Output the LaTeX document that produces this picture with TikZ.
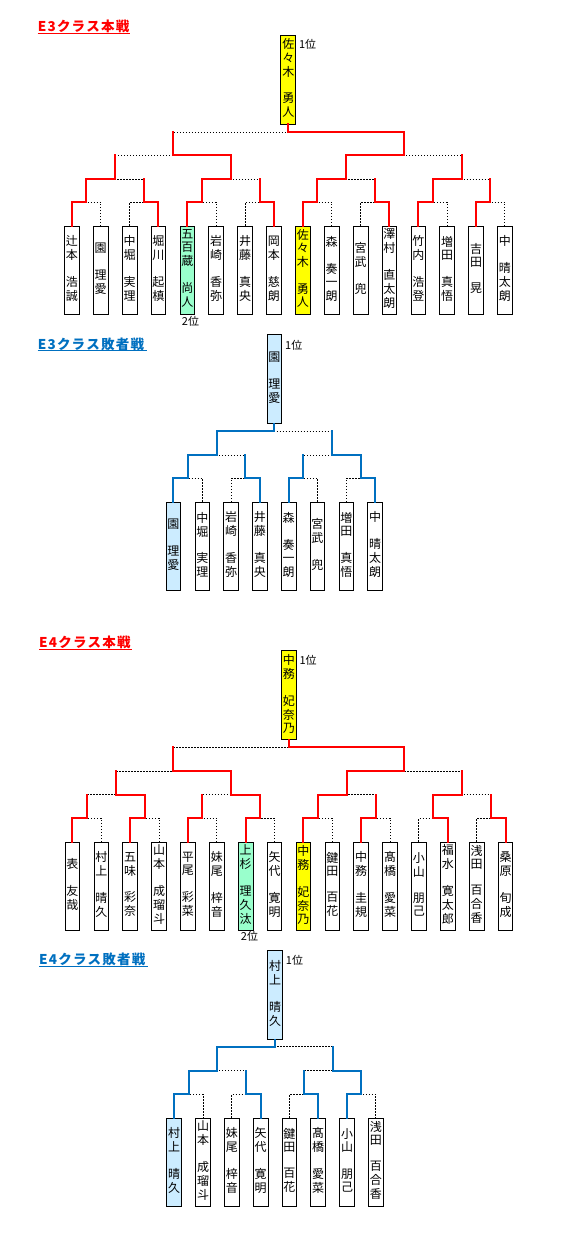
\documentclass[tikz,border=0pt]{standalone}
\usepackage{fontspec}
\newfontfamily\jp{Noto Sans CJK JP}
\usetikzlibrary{calc}
\definecolor{exred}{HTML}{FF0000}
\definecolor{exblue}{HTML}{0070C0}
\definecolor{ltblue}{HTML}{CCECFF}
\definecolor{mint}{HTML}{99FFCC}
\definecolor{yel}{HTML}{FFFF00}
\newcommand\vn[1]{\begin{tabular}{@{}c@{}}#1\end{tabular}}
\newcommand\tk{\kern1.2pt}
\tikzset{
  pbox/.style={draw=black, line width=0.8pt, minimum width=14.7pt, minimum height=88pt,
    inner sep=0pt, font=\fontsize{12}{13}\selectfont\jp},
  cbox/.style={pbox, minimum width=15pt, minimum height=89pt},
  dotl/.style={draw=black, line width=1pt, dash pattern=on 1.3pt off 1.7pt},
  redl/.style={draw=exred, line width=2pt, line cap=rect},
  bluel/.style={draw=exblue, line width=2pt, line cap=rect},
  ttl/.style={font=\fontsize{13.5}{15}\selectfont\jp\bfseries, inner sep=0pt, anchor=base west},
  rank/.style={font=\fontsize{11}{12}\selectfont\jp, inner sep=0pt},
}
% match: name, child1, child2, level y, winner (1/2), colour style
\newcommand\mt[6]{%
  \coordinate (tmp) at ($(#2)!0.5!(#3)$);
  \coordinate (#1) at (tmp |- 0,#4);
  \draw[dotl] (#2) |- (#1) -| (#3);
  \ifnum#5=1\relax \draw[#6] (#2) |- (#1);\else \draw[#6] (#3) |- (#1);\fi
}
\newcommand\mtn[6]{%
  \mt{#1}{#2}{#3}{#4}{#5}{#6}%
  \draw[#6] (#2) -- (#2 |- #1);
  \draw[#6] (#3) -- (#3 |- #1);
}
\begin{document}
\begin{tikzpicture}[x=1pt,y=-1pt]
\fill[white] (0,0) rectangle (570,1245);
\useasboundingbox (0,0) rectangle (570,1245);

%================ E3 main =================
\node[ttl,text=exred] (T1) at (37.7,31.7) {E\tk3\tk ク\tk ラ\tk ス\tk 本\tk 戦};
\draw[exred,line width=1pt] (37.7,33.5) -- (130,33.5);

\node[pbox] (A1) at (71.85,270) {\vn{辻\\本\\ \\浩\\誠}};
\node[pbox] (A2) at (100.72,270) {\vn{園\\ \\理\\愛}};
\node[pbox] (A3) at (129.59,270) {\vn{中\\堀\\ \\実\\理}};
\node[pbox] (A4) at (158.46,270) {\vn{堀\\川\\ \\起\\槙}};
\node[pbox,fill=mint] (A5) at (187.33,270) {\vn{五\\百\\蔵\\ \\尚\\人}};
\node[pbox] (A6) at (216.20,270) {\vn{岩\\崎\\ \\香\\弥}};
\node[pbox] (A7) at (245.07,270) {\vn{井\\藤\\ \\真\\央}};
\node[pbox] (A8) at (273.94,270) {\vn{岡\\本\\ \\慈\\朗}};
\node[pbox,fill=yel] (A9) at (302.81,270) {\vn{佐\\々\\木\\ \\勇\\人}};
\node[pbox] (A10) at (331.68,270) {\vn{森\\ \\奏\\一\\朗}};
\node[pbox] (A11) at (360.55,270) {\vn{宮\\武\\ \\兜}};
\node[pbox] (A12) at (389.42,270) {\vn{澤\\村\\ \\直\\太\\朗}};
\node[pbox] (A13) at (418.29,270) {\vn{竹\\内\\ \\浩\\登}};
\node[pbox] (A14) at (447.16,270) {\vn{増\\田\\ \\真\\悟}};
\node[pbox] (A15) at (476.03,270) {\vn{吉\\田\\ \\晃}};
\node[pbox] (A16) at (504.90,270) {\vn{中\\ \\晴\\太\\朗}};

\mt{AL1a}{A1.north}{A2.north}{202.3}{1}{redl}
\mt{AL1b}{A3.north}{A4.north}{202.3}{2}{redl}
\mt{AL1c}{A5.north}{A6.north}{202.3}{1}{redl}
\mt{AL1d}{A7.north}{A8.north}{202.3}{2}{redl}
\mt{AL1e}{A9.north}{A10.north}{202.3}{1}{redl}
\mt{AL1f}{A11.north}{A12.north}{202.3}{2}{redl}
\mt{AL1g}{A13.north}{A14.north}{202.3}{1}{redl}
\mt{AL1h}{A15.north}{A16.north}{202.3}{1}{redl}
\mtn{AL2a}{AL1a}{AL1b}{179.3}{1}{redl}
\mtn{AL2b}{AL1c}{AL1d}{179.3}{1}{redl}
\mtn{AL2c}{AL1e}{AL1f}{179.3}{1}{redl}
\mtn{AL2d}{AL1g}{AL1h}{179.3}{1}{redl}
\mtn{AL3a}{AL2a}{AL2b}{155.3}{2}{redl}
\mtn{AL3b}{AL2c}{AL2d}{155.3}{1}{redl}
\mtn{AL4}{AL3a}{AL3b}{132.3}{2}{redl}
\node[cbox,fill=yel] (AC) at (AL4 |- 0,79.5) {\vn{佐\\々\\木\\ \\勇\\人}};
\draw[redl] (AL4) -- (AC.south);
\node[rank,anchor=west] (AR1) at (298.8,44) {1位};
\node[rank] (AR2) at (190.5,321) {2位};

%================ E3 loser =================
\node[ttl,text=exblue] (T2) at (37.7,349) {E\tk3\tk ク\tk ラ\tk ス\tk 敗\tk 者\tk 戦};
\draw[exblue,line width=1pt] (37.7,350.8) -- (146.7,350.8);

\node[pbox,fill=ltblue] (B1) at (173.45,546.2) {\vn{園\\ \\理\\愛}};
\node[pbox] (B2) at (202.25,546.2) {\vn{中\\堀\\ \\実\\理}};
\node[pbox] (B3) at (231.05,546.2) {\vn{岩\\崎\\ \\香\\弥}};
\node[pbox] (B4) at (259.85,546.2) {\vn{井\\藤\\ \\真\\央}};
\node[pbox] (B5) at (288.65,546.2) {\vn{森\\ \\奏\\一\\朗}};
\node[pbox] (B6) at (317.45,546.2) {\vn{宮\\武\\ \\兜}};
\node[pbox] (B7) at (346.25,546.2) {\vn{増\\田\\ \\真\\悟}};
\node[pbox] (B8) at (375.05,546.2) {\vn{中\\ \\晴\\太\\朗}};

\mt{BL1a}{B1.north}{B2.north}{478}{1}{bluel}
\mt{BL1b}{B3.north}{B4.north}{478}{2}{bluel}
\mt{BL1c}{B5.north}{B6.north}{478}{1}{bluel}
\mt{BL1d}{B7.north}{B8.north}{478}{2}{bluel}
\mtn{BL2a}{BL1a}{BL1b}{455}{1}{bluel}
\mtn{BL2b}{BL1c}{BL1d}{455}{2}{bluel}
\mtn{BL3}{BL2a}{BL2b}{431}{1}{bluel}
\node[cbox,fill=ltblue,minimum width=14.5pt] (BC) at (BL3 |- 0,379) {\vn{園\\ \\理\\愛}};
\draw[bluel] (BL3) -- (BC.south);
\node[rank,anchor=west] (BR1) at (285,345) {1位};

%================ E4 main =================
\node[ttl,text=exred] (T3) at (39,647.7) {E\tk4\tk ク\tk ラ\tk ス\tk 本\tk 戦};
\draw[exred,line width=1pt] (39,649.5) -- (131.7,649.5);

\node[pbox] (C1) at (72.45,886) {\vn{表\\ \\友\\哉}};
\node[pbox] (C2) at (101.32,886) {\vn{村\\上\\ \\晴\\久}};
\node[pbox] (C3) at (130.19,886) {\vn{五\\味\\ \\彩\\奈}};
\node[pbox] (C4) at (159.06,886) {\vn{山\\本\\ \\成\\瑠\\斗}};
\node[pbox] (C5) at (187.93,886) {\vn{平\\尾\\ \\彩\\菜}};
\node[pbox] (C6) at (216.80,886) {\vn{妹\\尾\\ \\梓\\音}};
\node[pbox,fill=mint] (C7) at (245.67,886) {\vn{上\\杉\\ \\理\\久\\汰}};
\node[pbox] (C8) at (274.54,886) {\vn{矢\\代\\ \\寛\\明}};
\node[pbox,fill=yel] (C9) at (303.41,886) {\vn{中\\務\\ \\妃\\奈\\乃}};
\node[pbox] (C10) at (332.28,886) {\vn{鍵\\田\\ \\百\\花}};
\node[pbox] (C11) at (361.15,886) {\vn{中\\務\\ \\圭\\規}};
\node[pbox] (C12) at (390.02,886) {\vn{髙\\橋\\ \\愛\\菜}};
\node[pbox] (C13) at (418.89,886) {\vn{小\\山\\ \\朋\\己}};
\node[pbox] (C14) at (447.76,886) {\vn{福\\水\\ \\寛\\太\\郎}};
\node[pbox] (C15) at (476.63,886) {\vn{浅\\田\\ \\百\\合\\香}};
\node[pbox] (C16) at (505.50,886) {\vn{桑\\原\\ \\旬\\成}};

\mt{CL1a}{C1.north}{C2.north}{818.3}{1}{redl}
\mt{CL1b}{C3.north}{C4.north}{818.3}{1}{redl}
\mt{CL1c}{C5.north}{C6.north}{818.3}{1}{redl}
\mt{CL1d}{C7.north}{C8.north}{818.3}{1}{redl}
\mt{CL1e}{C9.north}{C10.north}{818.3}{1}{redl}
\mt{CL1f}{C11.north}{C12.north}{818.3}{1}{redl}
\mt{CL1g}{C13.north}{C14.north}{818.3}{2}{redl}
\mt{CL1h}{C15.north}{C16.north}{818.3}{2}{redl}
\mtn{CL2a}{CL1a}{CL1b}{794.7}{2}{redl}
\mtn{CL2b}{CL1c}{CL1d}{794.7}{2}{redl}
\mtn{CL2c}{CL1e}{CL1f}{794.7}{1}{redl}
\mtn{CL2d}{CL1g}{CL1h}{794.7}{1}{redl}
\mtn{CL3a}{CL2a}{CL2b}{771.3}{2}{redl}
\mtn{CL3b}{CL2c}{CL2d}{771.3}{1}{redl}
\mtn{CL4}{CL3a}{CL3b}{747.3}{2}{redl}
\node[cbox,fill=yel] (CC) at (CL4 |- 0,695.3) {\vn{中\\務\\ \\妃\\奈\\乃}};
\draw[redl] (CL4) -- (CC.south);
\node[rank,anchor=west] (CR1) at (299.3,660) {1位};
\node[rank] (CR2) at (249.5,936.7) {2位};

%================ E4 loser =================
\node[ttl,text=exblue] (T4) at (39,964.5) {E\tk4\tk ク\tk ラ\tk ス\tk 敗\tk 者\tk 戦};
\draw[exblue,line width=1pt] (39,966.3) -- (147.7,966.3);

\node[pbox,fill=ltblue] (D1) at (174.2,1161.9) {\vn{村\\上\\ \\晴\\久}};
\node[pbox] (D2) at (203.0,1161.9) {\vn{山\\本\\ \\成\\瑠\\斗}};
\node[pbox] (D3) at (231.8,1161.9) {\vn{妹\\尾\\ \\梓\\音}};
\node[pbox] (D4) at (260.6,1161.9) {\vn{矢\\代\\ \\寛\\明}};
\node[pbox] (D5) at (289.4,1161.9) {\vn{鍵\\田\\ \\百\\花}};
\node[pbox] (D6) at (318.2,1161.9) {\vn{髙\\橋\\ \\愛\\菜}};
\node[pbox] (D7) at (347.0,1161.9) {\vn{小\\山\\ \\朋\\己}};
\node[pbox] (D8) at (375.8,1161.9) {\vn{浅\\田\\ \\百\\合\\香}};

\mt{DL1a}{D1.north}{D2.north}{1094.3}{1}{bluel}
\mt{DL1b}{D3.north}{D4.north}{1094.3}{2}{bluel}
\mt{DL1c}{D5.north}{D6.north}{1094.3}{2}{bluel}
\mt{DL1d}{D7.north}{D8.north}{1094.3}{1}{bluel}
\mtn{DL2a}{DL1a}{DL1b}{1070.7}{1}{bluel}
\mtn{DL2b}{DL1c}{DL1d}{1070.7}{2}{bluel}
\mtn{DL3}{DL2a}{DL2b}{1046.7}{1}{bluel}
\node[cbox,fill=ltblue,minimum width=14.5pt] (DC) at (DL3 |- 0,995) {\vn{村\\上\\ \\晴\\久}};
\draw[bluel] (DL3) -- (DC.south);
\node[rank,anchor=west] (DR1) at (285.7,960) {1位};
\end{tikzpicture}
\end{document}
